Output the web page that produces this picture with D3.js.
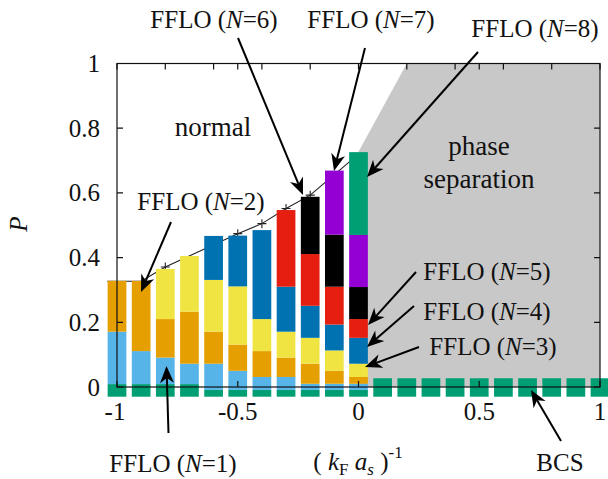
<!DOCTYPE html>
<html><head><meta charset="utf-8">
<script src="https://cdn.jsdelivr.net/npm/d3@7"></script>
<style>body{margin:0;background:#fff}svg{display:block}text{font-family:"Liberation Serif","Times New Roman",serif;fill:#111}</style>
</head><body><svg id="c" width="608" height="479"></svg>
<script>
// ---------- data ----------
const categories = [-1,-0.9,-0.8,-0.7,-0.6,-0.5,-0.4,-0.3,-0.2,-0.1,0,0.1,0.2,0.3,0.4,0.5,0.6,0.7,0.8,0.9,1.0];
const seriesNames = ["BCS","N1","N2","N3","N4","N5","N6","N7","N8"];
const bcs = [0.039,0.039,0.039,0.039,0.021,0.021,0.021,0.021,0.021,0.021,0.021,0.057,0.057,0.057,0.057,0.057,0.057,0.057,0.057,0.057,0.057];
const n1  = [0.162,0.102,0.082,0.063,0.081,0.059,0.040,0.040,0.019,0.019,0.019,0,0,0,0,0,0,0,0,0,0];
const n2  = [0.157,0.217,0.119,0.161,0.099,0.081,0.080,0.060,0.062,0.040,0.021,0,0,0,0,0,0,0,0,0,0];
const n3  = [0,0,0.155,0.172,0.160,0.180,0.099,0.080,0.080,0.063,0.041,0,0,0,0,0,0,0,0,0,0];
const n4  = [0,0,0,0,0.136,0.157,0.275,0.139,0.099,0.080,0.080,0,0,0,0,0,0,0,0,0,0];
const n5  = [0,0,0,0,0,0,0,0.237,0.160,0.117,0.058,0,0,0,0,0,0,0,0,0,0];
const n6  = [0,0,0,0,0,0,0,0,0.177,0.161,0.099,0,0,0,0,0,0,0,0,0,0];
const n7  = [0,0,0,0,0,0,0,0,0,0.198,0.161,0,0,0,0,0,0,0,0,0,0];
const n8  = [0,0,0,0,0,0,0,0,0,0,0.256,0,0,0,0,0,0,0,0,0,0];
const barBase = -0.03;
const seriesColors = ["#009e73","#56b4e9","#e69f00","#f0e442","#0072b2","#e51e10","#000000","#9400d3","#009e73"];

const lineX = [-1.04,-1,-0.9,-0.8,-0.5,-0.4,-0.3,-0.2,0];
const lineP = [0.327,0.327,0.327,0.371,0.474,0.505,0.552,0.593,0.72];
const markX = [-0.8,-0.5,-0.4,-0.3,-0.2];
const markP = [0.371,0.474,0.505,0.552,0.593];

const phaseX = [0,0,0.2,1,1];
const phaseP = [0,0.727,1,1,0];

const xTicks = [-1,-0.5,0,0.5,1];
const xTickLabels = ["-1","-0.5","0","0.5","1"];
const x2Ticks = [-1,-0.8,-0.6,-0.5,-0.4,-0.2,0,0.2,0.4,0.5,0.6,0.8,1];
const yTicks = [0,0.2,0.4,0.6,0.8,1];
const yTickLabels = ["0","0.2","0.4","0.6","0.8","1"];

// ---------- layout ----------
const svg = d3.select("#c");
const L=117, R=600, T=63.5, B=387;
const x = d3.scaleLinear().domain([-1,1]).range([L,R]);
const y = d3.scaleLinear().domain([0,1]).range([B,T]);
const barW = x(0.0775)-x(0);

// gray phase separation region
svg.append("path")
  .attr("d", d3.line().x((d,i)=>x(phaseX[i])).y((d,i)=>y(phaseP[i]))(phaseX)+"Z")
  .attr("fill","#c8c8c8");

// boundary line
svg.append("path")
  .attr("d", d3.line().x((d,i)=>x(lineX[i])).y((d,i)=>y(lineP[i]))(lineX))
  .attr("fill","none").attr("stroke","#222").attr("stroke-width",1.1);
svg.selectAll(".mk").data(markX).enter().append("path")
  .attr("d",(d,i)=>{const cx=x(d),cy=y(markP[i]),s=4.5;return `M${cx-s},${cy}H${cx+s}M${cx},${cy-s}V${cy+s}`;})
  .attr("stroke","#222").attr("stroke-width",1.1);

// stacked bars
const table = categories.map((c,i)=>({x:c,BCS:bcs[i],N1:n1[i],N2:n2[i],N3:n3[i],N4:n4[i],N5:n5[i],N6:n6[i],N7:n7[i],N8:n8[i]}));
const stack = d3.stack().keys(seriesNames)(table);
stack.forEach((layer,k)=>{
  svg.append("g").selectAll("rect").data(layer.filter(d=>d[1]-d[0]>0)).enter().append("rect")
    .attr("x",d=>x(d.data.x)-barW/2).attr("width",barW)
    .attr("y",d=>y(d[1]+barBase)).attr("height",d=>y(d[0]+barBase)-y(d[1]+barBase))
    .attr("fill",seriesColors[k]);
});

// frame + ticks
const fr = svg.append("g").attr("stroke","#111").attr("stroke-width",1.2).attr("fill","none");
fr.append("rect").attr("x",L).attr("y",T).attr("width",R-L).attr("height",B-T);
const tl=6;
yTicks.forEach(t=>{
  fr.append("path").attr("d",`M${L},${y(t)}h${tl}M${R},${y(t)}h${-tl}`);
});
xTicks.forEach(t=>{ fr.append("path").attr("d",`M${x(t)},${B}v${-tl}`); });
x2Ticks.forEach(t=>{ fr.append("path").attr("d",`M${x(t)},${T}v${tl}`); });

// tick labels
const fs = 25;
yTicks.forEach((t,i)=>{
  svg.append("text").attr("x",L-17).attr("y",y(t)).attr("dy","0.34em")
    .attr("text-anchor","end").attr("font-size",fs).text(yTickLabels[i]);
});
xTicks.forEach((t,i)=>{
  svg.append("text").attr("x",x(t)+ (i==0?-2:0)).attr("y",420).attr("text-anchor","middle")
    .attr("font-size",fs).text(xTickLabels[i]);
});

// axis titles
svg.append("text").attr("transform","translate(27,224) rotate(-90)").attr("text-anchor","middle")
  .attr("font-size",fs).attr("font-style","italic").text("P");
const xt = svg.append("text").attr("x",358).attr("y",470).attr("text-anchor","middle").attr("font-size",fs);
xt.append("tspan").text("( ");
xt.append("tspan").attr("font-style","italic").text("k");
xt.append("tspan").attr("font-size",17).attr("dy",5).text("F");
xt.append("tspan").attr("dy",-5).text(" ");
xt.append("tspan").attr("font-style","italic").text("a");
xt.append("tspan").attr("font-size",17).attr("font-style","italic").attr("dy",5).text("s");
xt.append("tspan").attr("dy",-5).text(" )");
xt.append("tspan").attr("font-size",17).attr("dy",-12).text("-1");

// labels
function ffloLabel(cx,by,n){
  const t=svg.append("text").attr("x",cx).attr("y",by).attr("text-anchor","middle").attr("font-size",fs);
  t.append("tspan").text("FFLO (");
  t.append("tspan").attr("font-style","italic").text("N");
  t.append("tspan").text("="+n+")");
}
ffloLabel(214,28,6);
ffloLabel(371,28,7);
ffloLabel(535,37,8);
ffloLabel(201,210,2);
ffloLabel(487,280,5);
ffloLabel(487,320,4);
ffloLabel(493,355,3);
ffloLabel(173,472,1);
svg.append("text").attr("x",213).attr("y",136).attr("text-anchor","middle").attr("font-size",27).text("normal");
svg.append("text").attr("x",479).attr("y",155).attr("text-anchor","middle").attr("font-size",27).text("phase");
svg.append("text").attr("x",479).attr("y",188).attr("text-anchor","middle").attr("font-size",27).text("separation");
svg.append("text").attr("x",560).attr("y",471).attr("text-anchor","middle").attr("font-size",fs).text("BCS");

// arrows
function arrow(x1,y1,x2,y2){
  const dx=x2-x1, dy=y2-y1, len=Math.hypot(dx,dy), ux=dx/len, uy=dy/len, px=-uy, py=ux;
  const Lh=17, W=7, notch=12;
  svg.append("line").attr("x1",x1).attr("y1",y1).attr("x2",x2-ux*notch).attr("y2",y2-uy*notch)
    .attr("stroke","#000").attr("stroke-width",2);
  const bx=x2-ux*Lh, by=y2-uy*Lh;
  svg.append("path").attr("d",`M${x2},${y2}L${bx+px*W},${by+py*W}L${x2-ux*notch},${y2-uy*notch}L${bx-px*W},${by-py*W}Z`).attr("fill","#000");
}
arrow(238,38,303,195);
arrow(365,48,334,171);
arrow(478,52,367,177);
arrow(171,222,141,292);
arrow(168.5,433,166.5,366);
arrow(416,272,368,325);
arrow(414,306,367,347);
arrow(419,347,365,367);
arrow(561,441,531,390);
</script></body></html>
